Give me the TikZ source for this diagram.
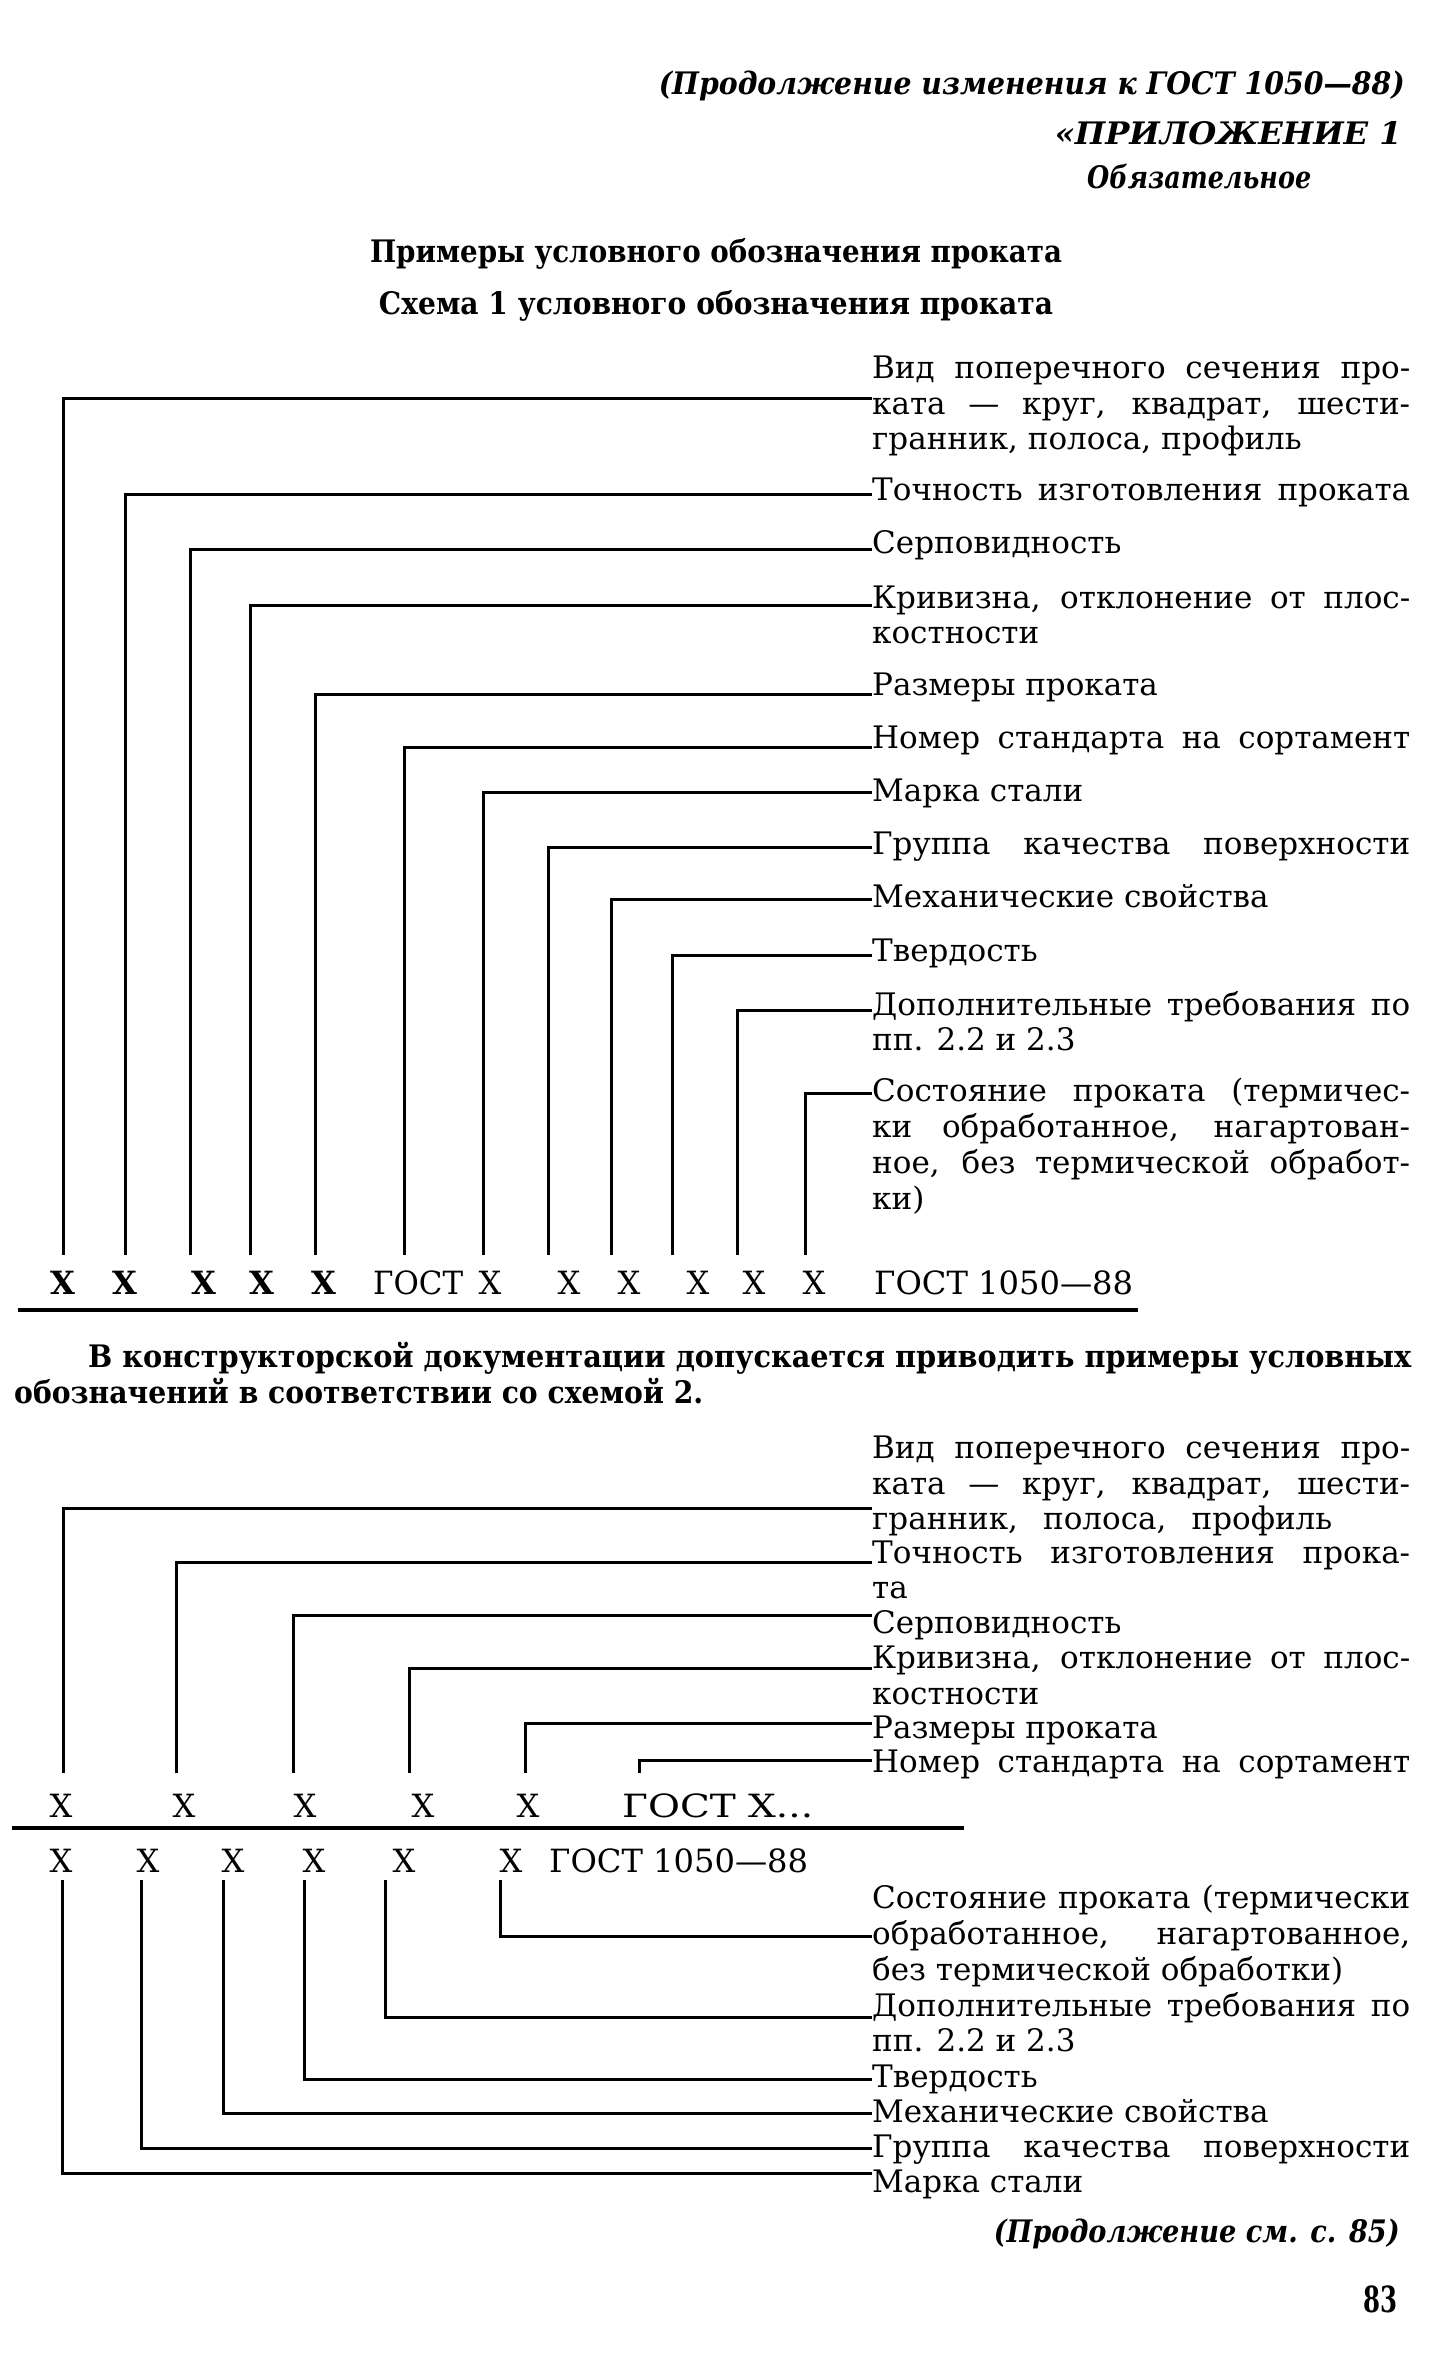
\documentclass[tikz,border=0pt]{standalone}
\usepackage{fontspec}
\setmainfont{DejaVu Serif}
\usepackage{graphicx}
\newcommand\labfont{\fontsize{31pt}{36pt}\selectfont}
\newcommand\xfont{\fontsize{32pt}{36pt}\selectfont}
\newsavebox\flbox
\newcommand\fl[1]{\sbox\flbox{#1}\ifdim\wd\flbox>538pt\resizebox{538pt}{\height}{\usebox\flbox}\else\makebox[538pt][s]{#1}\fi}
\begin{document}
\begin{tikzpicture}[x=1pt,y=-1pt,
  lab/.style={anchor=base west,inner sep=0pt,text height=21pt,text depth=7pt,font=\labfont},
  xl/.style={anchor=base,inner sep=0pt,font=\xfont},
  xb/.style={anchor=base,inner sep=0pt,font=\xfont\bfseries},
  xw/.style={anchor=base west,inner sep=0pt,font=\xfont},
  conn/.style={line width=3pt},
  rulex/.style={line width=4pt}]
\fill[white] (0,0) rectangle (1434,2371);
\useasboundingbox (0,0) rectangle (1434,2371);

% ---------- header ----------
\node[anchor=base east,inner sep=0pt,font=\labfont\bfseries\itshape] (hdr) at (1405,95)
  {\resizebox{746pt}{\height}{(Продолжение изменения к ГОСТ 1050—88)}};
\node[anchor=base east,inner sep=0pt,font=\labfont\bfseries\itshape] (app) at (1402,145)
  {\resizebox{347pt}{\height}{«ПРИЛОЖЕНИЕ 1}};
\node[anchor=base west,inner sep=0pt,font=\labfont\bfseries\itshape] (obl) at (1087,188)
  {\resizebox{224pt}{\height}{Обязательное}};
\node[anchor=base,inner sep=0pt,font=\labfont\bfseries] (t1) at (716,262)
  {\resizebox{692pt}{\height}{Примеры условного обозначения проката}};
\node[anchor=base,inner sep=0pt,font=\labfont\bfseries] (t2) at (716,314)
  {\resizebox{674pt}{\height}{Схема 1 условного обозначения проката}};

% ---------- scheme 1 labels ----------
\node[lab] (s1a1) at (872,378) {\fl{Вид поперечного сечения про-}};
\node[lab] (s1a2) at (872,414) {\fl{ката — круг, квадрат, шести-}};
\node[lab] (s1a3) at (872,449) {гранник, полоса, профиль};
\node[lab] (s1b)  at (872,500) {\fl{Точность изготовления проката}};
\node[lab] (s1c)  at (872,553) {Серповидность};
\node[lab] (s1d1) at (872,608) {\fl{Кривизна, отклонение от плос-}};
\node[lab] (s1d2) at (872,643) {костности};
\node[lab] (s1e)  at (872,695) {Размеры проката};
\node[lab] (s1f)  at (872,748) {\fl{Номер стандарта на сортамент}};
\node[lab] (s1g)  at (872,801) {Марка стали};
\node[lab] (s1h)  at (872,854) {\fl{Группа качества поверхности}};
\node[lab] (s1i)  at (872,907) {Механические свойства};
\node[lab] (s1j)  at (872,961) {Твердость};
\node[lab] (s1k1) at (872,1015) {\fl{Дополнительные требования по}};
\node[lab] (s1k2) at (872,1050) {пп. 2.2 и 2.3};
\node[lab] (s1l1) at (872,1101) {\fl{Состояние проката (термичес-}};
\node[lab] (s1l2) at (872,1137) {\fl{ки обработанное, нагартован-}};
\node[lab] (s1l3) at (872,1173) {\fl{ное, без термической обработ-}};
\node[lab] (s1l4) at (872,1209) {ки)};

% ---------- scheme 1 row ----------
\node[xb] (r1x1) at (63,1294) {Х};
\node[xb] (r1x2) at (125,1294) {Х};
\node[xb] (r1x3) at (204,1294) {Х};
\node[xb] (r1x4) at (262,1294) {Х};
\node[xb] (r1x5) at (324,1294) {Х};
\node[xw] (r1g)  at (373,1294) {\resizebox{90pt}{\height}{ГОСТ}};
\node[xl] (r1x6) at (490,1294) {Х};
\node[xl] (r1x7) at (569,1294) {Х};
\node[xl] (r1x8) at (629,1294) {Х};
\node[xl] (r1x9) at (698,1294) {Х};
\node[xl] (r1x10) at (754,1294) {Х};
\node[xl] (r1x11) at (814,1294) {Х};
\node[xw] (r1s) at (874,1294) {\resizebox{259pt}{\height}{ГОСТ 1050—88}};
\draw[rulex] (18,1310) -- (1138,1310);

% ---------- scheme 1 connectors ----------
\coordinate (f1) at (63,1255);
\coordinate (f2) at (125,1255);
\coordinate (f3) at (190,1255);
\coordinate (f4) at (250,1255);
\coordinate (f5) at (315,1255);
\coordinate (f6) at (404,1255);
\coordinate (f7) at (483,1255);
\coordinate (f8) at (548,1255);
\coordinate (f9) at (611,1255);
\coordinate (f10) at (672,1255);
\coordinate (f11) at (737,1255);
\coordinate (f12) at (805,1255);
\draw[conn] (f1) |- ([yshift=9pt]s1a2.west);
\draw[conn] (f2) |- ([yshift=-1pt]s1b.west);
\draw[conn] (f3) |- ([yshift=-3pt]s1c.west);
\draw[conn] (f4) |- ([yshift=-4pt]s1d1.west);
\draw[conn] (f5) |- ([yshift=-6pt]s1e.west);
\draw[conn] (f6) |- ([yshift=-6pt]s1f.west);
\draw[conn] (f7) |- ([yshift=2pt]s1g.west);
\draw[conn] (f8) |- ([yshift=0pt]s1h.west);
\draw[conn] (f9) |- ([yshift=1pt]s1i.west);
\draw[conn] (f10) |- ([yshift=-1pt]s1j.west);
\draw[conn] (f11) |- ([yshift=-2pt]s1k1.west);
\draw[conn] (f12) |- ([yshift=1pt]s1l1.west);

% ---------- paragraph ----------
\node[anchor=base west,inner sep=0pt,font=\labfont\bfseries] (p1) at (88,1367)
  {\resizebox{1323pt}{\height}{В конструкторской документации допускается приводить примеры условных}};
\node[anchor=base west,inner sep=0pt,font=\labfont\bfseries] (p2) at (14,1403)
  {\resizebox{689pt}{\height}{обозначений в соответствии со схемой 2.}};

% ---------- scheme 2 upper labels ----------
\node[lab] (s2a1) at (872,1458) {\fl{Вид поперечного сечения про-}};
\node[lab] (s2a2) at (872,1494) {\fl{ката — круг, квадрат, шести-}};
\node[lab] (s2a3) at (872,1529) {\makebox[460pt][s]{гранник, полоса, профиль}};
\node[lab] (s2b1) at (872,1563) {\fl{Точность изготовления прока-}};
\node[lab] (s2b2) at (872,1598) {та};
\node[lab] (s2c)  at (872,1633) {Серповидность};
\node[lab] (s2d1) at (872,1668) {\fl{Кривизна, отклонение от плос-}};
\node[lab] (s2d2) at (872,1704) {костности};
\node[lab] (s2e)  at (872,1738) {Размеры проката};
\node[lab] (s2f)  at (872,1772) {\fl{Номер стандарта на сортамент}};

% ---------- scheme 2 rows ----------
\node[xl] (r2x1) at (61,1817) {Х};
\node[xl] (r2x2) at (184,1817) {Х};
\node[xl] (r2x3) at (305,1817) {Х};
\node[xl] (r2x4) at (423,1817) {Х};
\node[xl] (r2x5) at (528,1817) {Х};
\node[xw] (r2g)  at (622,1817) {\resizebox{191pt}{\height}{ГОСТ Х...}};
\draw[rulex] (12,1828) -- (964,1828);
\node[xl] (r3x1) at (61,1872) {Х};
\node[xl] (r3x2) at (148,1872) {Х};
\node[xl] (r3x3) at (233,1872) {Х};
\node[xl] (r3x4) at (314,1872) {Х};
\node[xl] (r3x5) at (404,1872) {Х};
\node[xl] (r3x6) at (511,1872) {Х};
\node[xw] (r3s) at (549,1872) {\resizebox{259pt}{\height}{ГОСТ 1050—88}};

% ---------- scheme 2 upper connectors ----------
\coordinate (u1) at (63,1773);
\coordinate (u2) at (176,1773);
\coordinate (u3) at (293,1773);
\coordinate (u4) at (409,1773);
\coordinate (u5) at (525,1773);
\coordinate (u6) at (639,1773);
\draw[conn] (u1) |- ([yshift=-21pt]s2a2.west);
\draw[conn] (u2) |- ([yshift=-6pt]s2b1.west);
\draw[conn] (u3) |- ([yshift=11pt]s2c.west);
\draw[conn] (u4) |- ([yshift=-7pt]s2d1.west);
\draw[conn] (u5) |- ([yshift=8pt]s2e.west);
\draw[conn] (u6) |- ([yshift=5pt]s2f.west);

% ---------- scheme 2 lower labels ----------
\node[lab] (s3l1) at (872,1908) {\fl{Состояние проката (термически}};
\node[lab] (s3l2) at (872,1944) {\fl{обработанное, нагартованное,}};
\node[lab] (s3l3) at (872,1980) {без термической обработки)};
\node[lab] (s3k1) at (872,2016) {\fl{Дополнительные требования по}};
\node[lab] (s3k2) at (872,2051) {пп. 2.2 и 2.3};
\node[lab] (s3j)  at (872,2087) {Твердость};
\node[lab] (s3i)  at (872,2122) {Механические свойства};
\node[lab] (s3h)  at (872,2157) {\fl{Группа качества поверхности}};
\node[lab] (s3g)  at (872,2192) {Марка стали};

% ---------- scheme 2 lower connectors ----------
\coordinate (d1) at (62,1880);
\coordinate (d2) at (141,1880);
\coordinate (d3) at (223,1880);
\coordinate (d4) at (304,1880);
\coordinate (d5) at (385,1880);
\coordinate (d6) at (500,1880);
\draw[conn] (d6) |- ([yshift=1pt]s3l2.west);
\draw[conn] (d5) |- ([yshift=-8pt]s3k1.west);
\draw[conn] (d4) |- ([yshift=1pt]s3j.west);
\draw[conn] (d3) |- ([yshift=2pt]s3i.west);
\draw[conn] (d2) |- ([yshift=2pt]s3h.west);
\draw[conn] (d1) |- ([yshift=12pt]s3g.west);

% ---------- footer ----------
\node[anchor=base east,inner sep=0pt,font=\labfont\bfseries\itshape] (cont) at (1400,2242)
  {\resizebox{406pt}{\height}{(Продолжение см. с. 85)}};
\node[anchor=base east,inner sep=0pt,font=\fontsize{36pt}{40pt}\selectfont\bfseries] (pg) at (1398,2312)
  {\resizebox{34pt}{\height}{83}};
\end{tikzpicture}
\end{document}
